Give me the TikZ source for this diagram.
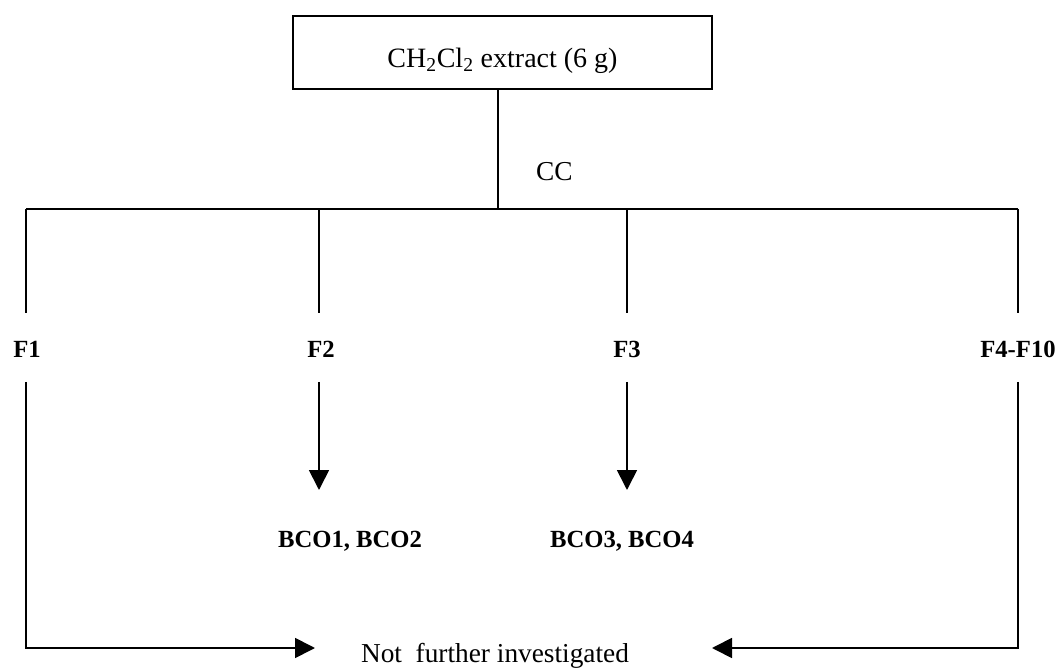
\documentclass[tikz,border=0pt]{standalone}
\usepackage{fontspec}
\setmainfont{Liberation Serif}
\usetikzlibrary{arrows.meta}
\begin{document}
\begin{tikzpicture}[x=0.75pt,y=-0.75pt,
  line width=1.3pt,
  flow/.style={draw,-{Triangle[length=15pt,width=15pt]}},
  frac/.style={font=\fontsize{18.5}{22}\selectfont\bfseries,inner sep=1pt},
  plain/.style={font=\fontsize{20.5}{24}\selectfont,inner sep=1pt},
  startbox/.style={draw,minimum width=314pt,minimum height=55pt,
    text height=22pt,text depth=0pt,
    font=\fontsize{21}{25}\selectfont}]
\useasboundingbox (0,0) rectangle (1061,670);

% extract box and column chromatography split
\node[startbox] (ext) at (502.5,52.5) {CH\textsubscript{2}Cl\textsubscript{2} extract (6 g)};
\coordinate (jn) at (498,209);
\node[plain,anchor=west] (cc) at (534,172) {CC};
\draw (ext.south -| jn) -- (jn);

% horizontal bar and drops to the fractions
\coordinate (b1) at (26,209);
\coordinate (b4) at (1018,209);
\draw (b1) -- (b4);
\coordinate (d1) at (26,313);
\coordinate (d2) at (319,313);
\coordinate (d3) at (627,313);
\coordinate (d4) at (1018,313);
\draw (b1) -- (d1);
\draw (d2 |- jn) -- (d2);
\draw (d3 |- jn) -- (d3);
\draw (b4) -- (d4);

% fractions
\node[frac] (f1) at (27,349) {F1};
\node[frac] (f2) at (321,349) {F2};
\node[frac] (f3) at (627,349) {F3};
\node[frac] (f4) at (1018,349) {F4-F10};

% isolated compounds
\node[frac] (c12) at (350,541) {BCO1, BCO2};
\node[frac] (c34) at (622,541) {BCO3, BCO4};
\coordinate (a2) at (319,382);
\coordinate (a3) at (627,382);
\coordinate (t2) at (319,490);
\coordinate (t3) at (627,490);
\draw[flow] (a2) -- (t2);
\draw[flow] (a3) -- (t3);

% fractions set aside
\node[plain,anchor=base] (nfi) at (495,662) {Not\ \ further investigated};
\coordinate (s1) at (26,382);
\coordinate (s4) at (1018,382);
\coordinate (k1) at (26,648);
\coordinate (k4) at (1018,648);
\coordinate (e1) at (315,648);
\coordinate (e4) at (712,648);
\draw[flow] (s1) -- (k1) -- (e1);
\draw[flow] (s4) -- (k4) -- (e4);
\end{tikzpicture}
\end{document}
